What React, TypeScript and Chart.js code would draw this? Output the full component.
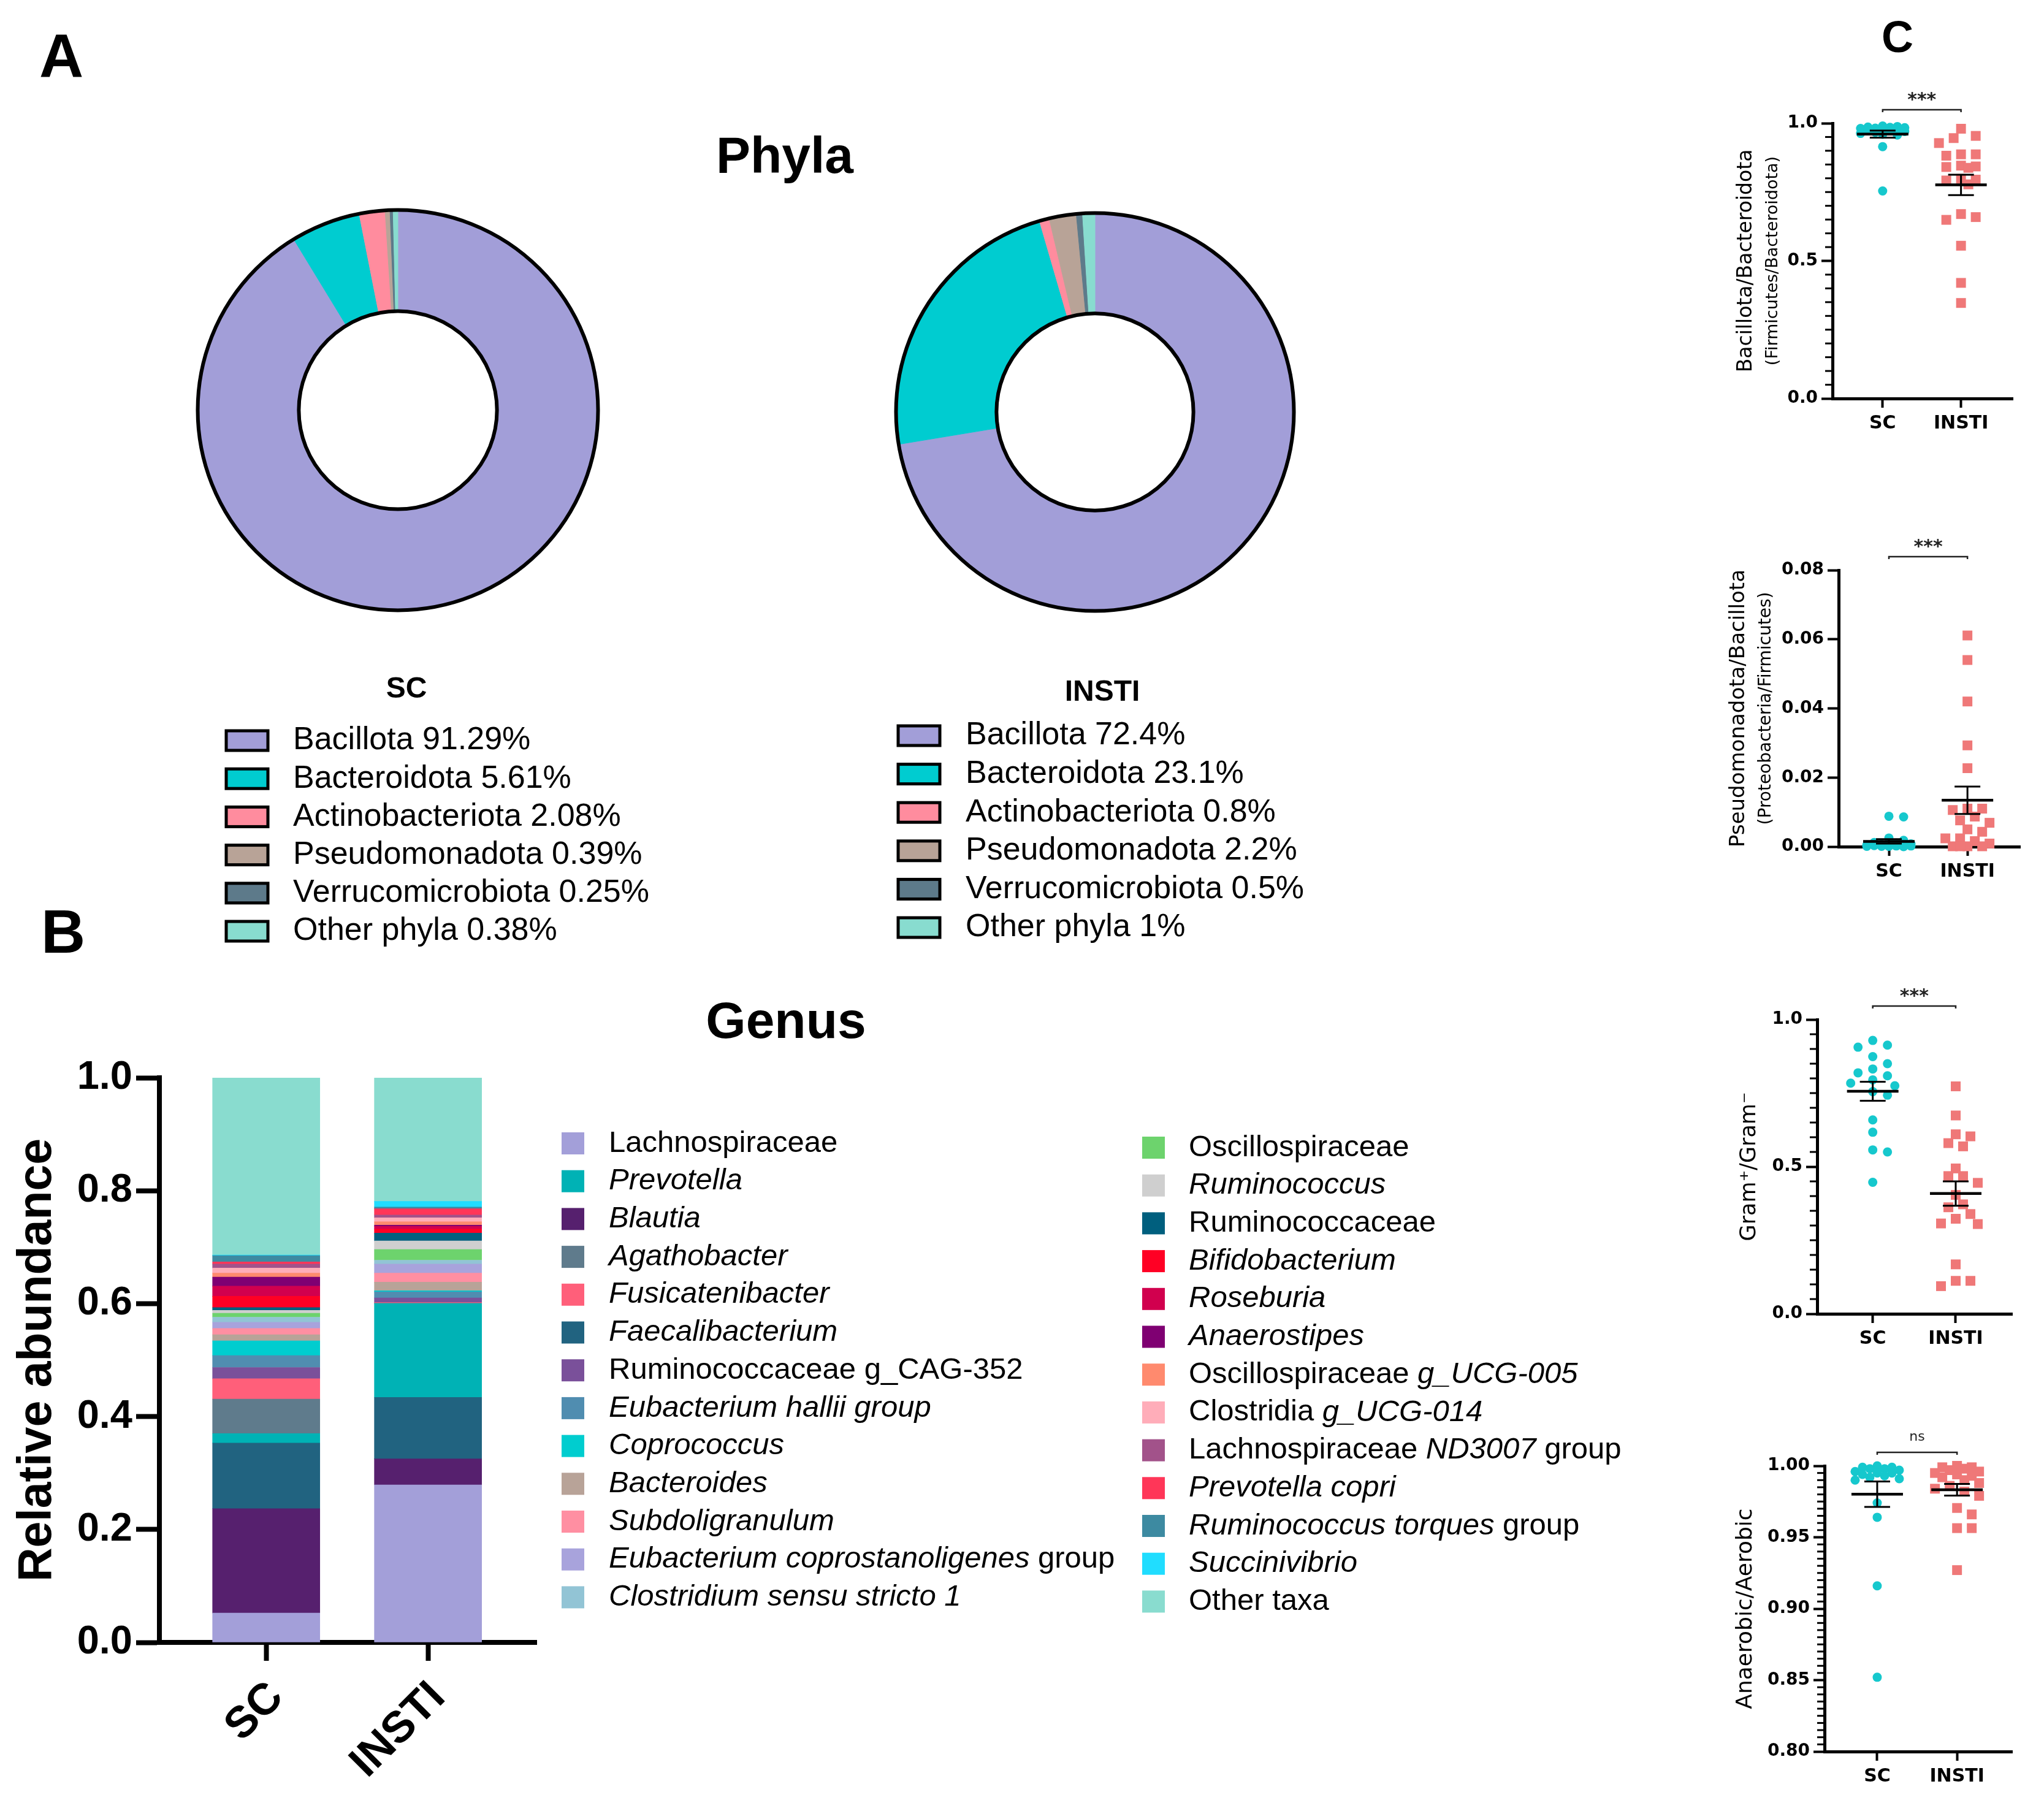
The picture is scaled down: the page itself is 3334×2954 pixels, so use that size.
import React, { useEffect, useRef } from 'react';
import { Chart, registerables } from 'chart.js';

Chart.register(...registerables);

const SANS = '"Liberation Sans", Arial, Helvetica, sans-serif';
const DEJAVU = '"DejaVu Sans", Verdana, sans-serif';

// ================= DATA =================
// Panel A - phyla
const phylaLabels = ['Bacillota', 'Bacteroidota', 'Actinobacteriota', 'Pseudomonadota', 'Verrucomicrobiota', 'Other phyla'];
const phylaColors = ['#a29ed8', '#00ccd0', '#ff8c9e', '#b8a397', '#5d7a8a', '#88dccf'];
const phylaSC = [91.29, 5.61, 2.08, 0.39, 0.25, 0.38];
const phylaINSTI = [72.4, 23.1, 0.8, 2.2, 0.5, 1];

// Panel B - genus (legend order)
const barGroups = ['SC', 'INSTI'];
const genusNames = [
  'Lachnospiraceae', 'Prevotella', 'Blautia', 'Agathobacter', 'Fusicatenibacter', 'Faecalibacterium',
  'Ruminococcaceae g_CAG-352', 'Eubacterium hallii group', 'Coprococcus', 'Bacteroides', 'Subdoligranulum',
  'Eubacterium coprostanoligenes group', 'Clostridium sensu stricto 1',
  'Oscillospiraceae', 'Ruminococcus', 'Ruminococcaceae', 'Bifidobacterium', 'Roseburia', 'Anaerostipes',
  'Oscillospiraceae g_UCG-005', 'Clostridia g_UCG-014', 'Lachnospiraceae ND3007 group', 'Prevotella copri',
  'Ruminococcus torques group', 'Succinivibrio', 'Other taxa',
];
const genusItalic = [
  '', 'Prevotella', 'Blautia', 'Agathobacter', 'Fusicatenibacter', 'Faecalibacterium',
  '', 'Eubacterium hallii group', 'Coprococcus', 'Bacteroides', 'Subdoligranulum',
  'Eubacterium coprostanoligenes', 'Clostridium sensu stricto 1',
  '', 'Ruminococcus', '', 'Bifidobacterium', 'Roseburia', 'Anaerostipes',
  'g_UCG-005', 'g_UCG-014', 'ND3007', 'Prevotella copri',
  'Ruminococcus torques', 'Succinivibrio', '',
];
const genusColors = [
  '#a39fd9', '#00b2b5', '#56206e', '#5f7b8c', '#ff5f7a', '#216380',
  '#7a509a', '#508db0', '#00cdcf', '#b8a398', '#ff8fa2',
  '#a8a3dc', '#92c4d5',
  '#6dd36d', '#cfcfcf', '#005f7e', '#ff0024', '#d1004e', '#7f0072',
  '#ff8a6e', '#ffadb9', '#a2528a', '#ff3658',
  '#3d8aa1', '#20ddff', '#89dccf',
];
// position of each genus in the stack (0 = bottom)
const genusStackRank = [0, 3, 1, 4, 5, 2, 6, 7, 8, 9, 10, 11, 12, 13, 14, 15, 16, 17, 18, 19, 20, 21, 22, 23, 24, 25];
const genusSC = [
  0.052, 0.017, 0.185, 0.061, 0.036, 0.116, 0.020, 0.021, 0.026, 0.011, 0.011, 0.011, 0.009,
  0.007, 0.005, 0.005, 0.020, 0.018, 0.016, 0.007, 0.009, 0.007, 0.004, 0.011, 0.001, 0.314,
];
const genusINSTI = [
  0.279, 0.166, 0.046, 0.001, 0.001, 0.109, 0.008, 0.011, 0.002, 0.015, 0.016, 0.016, 0.007,
  0.019, 0.015, 0.014, 0.007, 0.005, 0.002, 0.006, 0.007, 0.005, 0.011, 0.003, 0.010, 0.219,
];

// Panel C - ratios per subject
const groupLabels = ['SC', 'INSTI'];
const fbSC = [0.990, 0.988, 0.986, 0.985, 0.984, 0.982, 0.981, 0.979, 0.977, 0.975, 0.972, 0.970, 0.967, 0.963, 0.960, 0.957, 0.915, 0.754];
const fbINSTI = [0.980, 0.954, 0.946, 0.928, 0.887, 0.882, 0.887, 0.843, 0.846, 0.838, 0.841, 0.792, 0.795, 0.778, 0.798, 0.670, 0.649, 0.659, 0.555, 0.420, 0.347];
const pbSC = [0.0088, 0.0086, 0.0025, 0.0018, 0.0012, 0.0010, 0.0008, 0.0006, 0.0005, 0.0004, 0.0003, 0.0003, 0.0002, 0.0002, 0.0001, 0.0001, 0.0001, 0.0000];
const pbINSTI = [0.0611, 0.0540, 0.0420, 0.0293, 0.0227, 0.0106, 0.0110, 0.0110, 0.0087, 0.0076, 0.0069, 0.0050, 0.0043, 0.0024, 0.0024, 0.0016, 0.0009, 0.0001, 0.0001, 0.0001, 0.0001];
const gramSC = [0.929, 0.913, 0.906, 0.874, 0.850, 0.832, 0.819, 0.809, 0.795, 0.784, 0.775, 0.755, 0.743, 0.659, 0.617, 0.557, 0.550, 0.447];
const gramINSTI = [0.773, 0.674, 0.610, 0.603, 0.580, 0.569, 0.494, 0.468, 0.468, 0.445, 0.404, 0.372, 0.362, 0.339, 0.323, 0.307, 0.305, 0.168, 0.112, 0.112, 0.094];
const anSC = [1.000, 0.999, 0.999, 0.998, 0.998, 0.997, 0.996, 0.995, 0.995, 0.994, 0.993, 0.992, 0.991, 0.990, 0.974, 0.964, 0.916, 0.852];
const anINSTI = [1.000, 0.999, 0.999, 0.998, 0.997, 0.996, 0.995, 0.994, 0.993, 0.992, 0.990, 0.988, 0.986, 0.984, 0.982, 0.979, 0.9705, 0.966, 0.9564, 0.9564, 0.927];

// ================= STYLE / LAYOUT =================
const SC_DOT = '#16c8cd';
const INSTI_DOT = '#ef7878';

type Box = { left: number; top: number; width: number; height: number };

function ChartCanvas({ box, build }: { box: Box; build: (c: HTMLCanvasElement) => Chart }) {
  const ref = useRef<HTMLCanvasElement>(null);
  useEffect(() => {
    if (!ref.current) return;
    const chart = build(ref.current);
    return () => chart.destroy();
  }, []);
  return (
    <canvas
      ref={ref}
      width={box.width}
      height={box.height}
      style={{ position: 'absolute', left: box.left, top: box.top, width: box.width, height: box.height }}
    />
  );
}

// ---------- Doughnuts ----------
const ringOutline = {
  id: 'ringOutline',
  afterDatasetsDraw(chart: any) {
    const arc = chart.getDatasetMeta(0).data[0];
    if (!arc) return;
    const { ctx } = chart;
    ctx.save();
    ctx.strokeStyle = '#000';
    ctx.lineWidth = 6;
    ctx.beginPath();
    ctx.arc(arc.x, arc.y, arc.outerRadius, 0, Math.PI * 2);
    ctx.stroke();
    ctx.beginPath();
    ctx.arc(arc.x, arc.y, arc.innerRadius, 0, Math.PI * 2);
    ctx.stroke();
    ctx.restore();
  },
};

function phylaLegend(L: any) {
  return {
    id: 'phylaLegend',
    afterDraw(chart: any) {
      const { ctx } = chart;
      const ds = chart.data.datasets[0];
      ctx.save();
      ctx.fillStyle = '#000';
      ctx.font = `bold 48px ${SANS}`;
      ctx.textAlign = 'center';
      ctx.textBaseline = 'middle';
      ctx.fillText(L.title, L.titleX, L.titleY);
      ctx.font = `52px ${SANS}`;
      ctx.textAlign = 'left';
      chart.data.labels.forEach((lab: string, i: number) => {
        const cy = L.firstY + i * L.step;
        ctx.fillStyle = ds.backgroundColor[i];
        ctx.fillRect(L.boxX, cy - 16, 68, 32);
        ctx.lineWidth = 5;
        ctx.strokeStyle = '#000';
        ctx.strokeRect(L.boxX, cy - 16, 68, 32);
        ctx.fillStyle = '#000';
        ctx.fillText(`${lab} ${ds.data[i]}%`, L.textX, cy);
      });
      ctx.restore();
    },
  };
}

function buildDoughnut(values: number[], padding: any, legend: any) {
  return (canvas: HTMLCanvasElement) =>
    new Chart(canvas, {
      type: 'doughnut',
      data: {
        labels: phylaLabels,
        datasets: [{ data: values, backgroundColor: phylaColors, borderColor: phylaColors, borderWidth: 1 }],
      },
      options: {
        responsive: false,
        animation: false,
        devicePixelRatio: 1,
        events: [],
        cutout: '49.5%',
        layout: { padding },
        plugins: { legend: { display: false }, tooltip: { enabled: false } },
      } as any,
      plugins: [ringOutline, phylaLegend(legend)],
    });
}

const scDonutBox = { left: 300, top: 320, width: 1100, height: 1260 };
const instiDonutBox = { left: 1440, top: 320, width: 900, height: 1260 };

// ---------- Genus stacked bar ----------
const barBox = { left: 0, top: 1700, width: 2700, height: 1254 };
const genusLegendLayout = { colX: [916, 1863], textDx: [77, 76], firstY: [165, 172], step: 61.7, perCol: 13 };

const genusLegend = {
  id: 'genusLegend',
  afterDraw(chart: any) {
    const { ctx } = chart;
    const G = genusLegendLayout;
    ctx.save();
    ctx.textBaseline = 'middle';
    ctx.textAlign = 'left';
    chart.data.datasets.forEach((ds: any, i: number) => {
      const col = i < G.perCol ? 0 : 1;
      const row = i % G.perCol;
      const bx = G.colX[col];
      const cy = G.firstY[col] + row * G.step;
      ctx.fillStyle = ds.backgroundColor;
      ctx.fillRect(bx, cy - 18, 37, 36);
      const name: string = ds.label;
      const it = genusItalic[i];
      let parts: { t: string; i: boolean }[] = [{ t: name, i: false }];
      if (it) {
        const k = name.indexOf(it);
        parts = [
          { t: name.slice(0, k), i: false },
          { t: it, i: true },
          { t: name.slice(k + it.length), i: false },
        ];
      }
      let x = bx + G.textDx[col];
      ctx.fillStyle = '#000';
      parts.forEach((p) => {
        if (!p.t) return;
        ctx.font = `${p.i ? 'italic ' : ''}49px ${SANS}`;
        ctx.fillText(p.t, x, cy);
        x += ctx.measureText(p.t).width;
      });
    });
    ctx.restore();
  },
};

function buildBar(canvas: HTMLCanvasElement) {
  return new Chart(canvas, {
    type: 'bar',
    data: {
      datasets: genusNames.map((name, i) => ({
        label: name,
        data: barGroups.map((_, g) => ({ x: g, y: g === 0 ? genusSC[i] : genusINSTI[i] })),
        backgroundColor: genusColors[i],
        borderWidth: 0,
        order: genusStackRank[i],
        barThickness: 175,
      })),
    },
    options: {
      responsive: false,
      animation: false,
      devicePixelRatio: 1,
      events: [],
      layout: { padding: { top: 58, right: 1825, left: 0, bottom: 0 } },
      plugins: { legend: { display: false }, tooltip: { enabled: false } },
      scales: {
        x: {
          type: 'linear',
          stacked: true,
          offset: false,
          min: -0.66,
          max: 1.67,
          afterBuildTicks: (s: any) => {
            s.ticks = barGroups.map((_, i) => ({ value: i }));
          },
          afterFit: (s: any) => {
            s.height = 275;
          },
          grid: { offset: false, drawOnChartArea: false, drawTicks: true, tickLength: 30, tickWidth: 8, tickColor: '#000' },
          border: { display: true, width: 8, color: '#000' },
          ticks: {
            autoSkip: false,
            callback: (v: any) => barGroups[v],
            font: { family: SANS, size: 72, weight: 'bold' },
            color: '#000',
            maxRotation: 45,
            minRotation: 45,
            padding: 18,
            labelOffset: 17,
          },
        },
        y: {
          stacked: true,
          min: 0,
          max: 1,
          afterFit: (s: any) => {
            s.width = 260;
          },
          ticks: {
            stepSize: 0.2,
            callback: (v: any) => Number(v).toFixed(1),
            font: { family: SANS, size: 65, weight: 'bold' },
            color: '#000',
            padding: 6,
          },
          grid: { drawOnChartArea: false, drawTicks: true, tickLength: 38, tickWidth: 8, tickColor: '#000' },
          border: { display: true, width: 8, color: '#000' },
          title: {
            display: true,
            text: 'Relative abundance',
            font: { family: SANS, size: 77, weight: 'bold' },
            color: '#000',
            padding: { top: 16, bottom: 0 },
          },
        },
      },
    } as any,
    plugins: [genusLegend],
  });
}

// ---------- Scatter (mean ± SEM) ----------
function beeswarm(values: number[], pxPerUnit: number, diam: number, step: number, maxHalf: number): number[] {
  const order = values.map((_, i) => i).sort((a, b) => values[b] - values[a]);
  const placed: { x: number; y: number }[] = [];
  const out = new Array(values.length).fill(0);
  const maxK = Math.floor(maxHalf / step);
  for (const i of order) {
    const y = values[i] * pxPerUnit;
    let best = 0;
    let bestD = -1;
    for (let k = 0; k <= 2 * maxK; k++) {
      const off = k === 0 ? 0 : (k % 2 ? 1 : -1) * Math.ceil(k / 2) * step;
      let minD = Infinity;
      for (const p of placed) {
        const d = Math.hypot(p.x - off, p.y - y);
        if (d < minD) minD = d;
      }
      if (minD >= diam) {
        best = off;
        break;
      }
      if (minD > bestD) {
        bestD = minD;
        best = off;
      }
    }
    out[i] = best;
    placed.push({ x: best, y });
  }
  return out;
}

function stats(vals: number[]) {
  const n = vals.length;
  const mean = vals.reduce((a, b) => a + b, 0) / n;
  const sd = Math.sqrt(vals.reduce((a, b) => a + (b - mean) * (b - mean), 0) / (n - 1));
  return { mean, sem: sd / Math.sqrt(n) };
}

function scatterDecor(spec: any) {
  return {
    id: 'scatterDecor',
    afterDraw(chart: any) {
      const { ctx, chartArea } = chart;
      const xs = chart.scales.x;
      const ys = chart.scales.y;
      ctx.save();
      ctx.strokeStyle = '#000';
      ctx.lineCap = 'butt';
      // minor ticks on y
      if (spec.yMinor) {
        ctx.lineWidth = 3;
        const n = Math.round((spec.yMax - spec.yMin) / spec.yMinor);
        for (let k = 0; k <= n; k++) {
          const v = spec.yMin + k * spec.yMinor;
          const r = (v - spec.yMin) / spec.yStep;
          if (Math.abs(r - Math.round(r)) < 1e-6) continue;
          const py = ys.getPixelForValue(v);
          ctx.beginPath();
          ctx.moveTo(chartArea.left - 12, py);
          ctx.lineTo(chartArea.left, py);
          ctx.stroke();
        }
      }
      // mean +- SEM
      chart.data.datasets.forEach((ds: any, g: number) => {
        const { mean, sem } = stats(ds.data.map((p: any) => p.y));
        const cx = xs.getPixelForValue(g);
        const pm = ys.getPixelForValue(mean);
        const pt = ys.getPixelForValue(mean + sem);
        const pb = ys.getPixelForValue(mean - sem);
        ctx.lineWidth = 4.5;
        ctx.beginPath();
        ctx.moveTo(cx - 42, pm);
        ctx.lineTo(cx + 42, pm);
        ctx.stroke();
        ctx.lineWidth = 3;
        ctx.beginPath();
        ctx.moveTo(cx, pt);
        ctx.lineTo(cx, pb);
        ctx.moveTo(cx - 21, pt);
        ctx.lineTo(cx + 21, pt);
        ctx.moveTo(cx - 21, pb);
        ctx.lineTo(cx + 21, pb);
        ctx.stroke();
      });
      // significance bracket
      const x0 = xs.getPixelForValue(0);
      const x1 = xs.getPixelForValue(1);
      const by = chartArea.top - 22;
      ctx.strokeStyle = '#222';
      ctx.lineWidth = 2.5;
      ctx.beginPath();
      ctx.moveTo(x0, by + 4);
      ctx.lineTo(x0, by);
      ctx.lineTo(x1, by);
      ctx.lineTo(x1, by + 4);
      ctx.stroke();
      ctx.fillStyle = '#222';
      ctx.textAlign = 'center';
      ctx.textBaseline = 'alphabetic';
      if (spec.sig === 'ns') {
        ctx.font = `22px ${DEJAVU}`;
        ctx.fillText(spec.sig, (x0 + x1) / 2, by - 25 + 6);
      } else {
        ctx.font = `bold 30px ${DEJAVU}`;
        ctx.fillText(spec.sig, (x0 + x1) / 2, by - 25 + 18);
      }
      // y titles
      ctx.fillStyle = '#000';
      spec.titles.forEach((t: any) => {
        ctx.save();
        ctx.translate(chartArea.left + t.dx, (chartArea.top + chartArea.bottom) / 2);
        ctx.rotate(-Math.PI / 2);
        ctx.font = `${t.size}px ${DEJAVU}`;
        ctx.textAlign = 'center';
        ctx.textBaseline = 'middle';
        ctx.fillText(t.text, 0, 0);
        ctx.restore();
      });
      ctx.restore();
    },
  };
}

function buildScatter(spec: any) {
  return (canvas: HTMLCanvasElement) => {
    const pxX = (spec.area.right - spec.area.left) / (spec.xMax - spec.xMin);
    const pxY = (spec.area.bottom - spec.area.top) / (spec.yMax - spec.yMin);
    const series = [spec.sc, spec.insti];
    const datasets = series.map((vals: number[], g: number) => {
      const offs = beeswarm(vals, pxY, 17, 12, 42);
      const color = g === 0 ? SC_DOT : INSTI_DOT;
      return {
        label: groupLabels[g],
        data: vals.map((v, k) => ({ x: g + offs[k] / pxX, y: v })),
        pointStyle: g === 0 ? 'circle' : 'rect',
        pointRadius: g === 0 ? 7.5 : 11.3,
        pointBorderWidth: 0,
        backgroundColor: color,
        borderColor: color,
        showLine: false,
        clip: false,
      };
    });
    return new Chart(canvas, {
      type: 'scatter',
      data: { datasets },
      options: {
        responsive: false,
        animation: false,
        devicePixelRatio: 1,
        events: [],
        layout: {
          padding: {
            top: spec.area.top - spec.canvas.top,
            right: spec.canvas.left + spec.canvas.width - spec.area.right,
            left: 0,
            bottom: 0,
          },
        },
        plugins: { legend: { display: false }, tooltip: { enabled: false } },
        scales: {
          x: {
            type: 'linear',
            min: spec.xMin,
            max: spec.xMax,
            afterBuildTicks: (s: any) => {
              s.ticks = groupLabels.map((_, i) => ({ value: i }));
            },
            afterFit: (s: any) => {
              s.height = spec.canvas.top + spec.canvas.height - spec.area.bottom;
            },
            ticks: {
              autoSkip: false,
              maxRotation: 0,
              callback: (v: any) => groupLabels[v],
              font: { family: DEJAVU, size: 30, weight: 'bold' },
              color: '#000',
              padding: 8,
            },
            grid: { drawOnChartArea: false, drawTicks: true, tickLength: 15, tickWidth: 4, tickColor: '#000' },
            border: { display: true, width: 5, color: '#000' },
          },
          y: {
            min: spec.yMin,
            max: spec.yMax,
            afterFit: (s: any) => {
              s.width = spec.area.left - spec.canvas.left;
            },
            ticks: {
              stepSize: spec.yStep,
              callback: (v: any) => Number(v).toFixed(spec.decimals),
              font: { family: DEJAVU, size: 28, weight: 'bold' },
              color: '#000',
              padding: 6,
            },
            grid: { drawOnChartArea: false, drawTicks: true, tickLength: 18, tickWidth: 4, tickColor: '#000' },
            border: { display: true, width: 5, color: '#000' },
          },
        },
      } as any,
      plugins: [scatterDecor(spec)],
    });
  };
}

const scatterSpecs = [
  {
    canvas: { left: 2800, top: 100, width: 534, height: 650 },
    area: { left: 2989, top: 201, right: 3283, bottom: 650 },
    xMin: -0.64, xMax: 1.66, yMin: 0, yMax: 1, yStep: 0.5, yMinor: 0.05, decimals: 1,
    sc: fbSC, insti: fbINSTI, sig: '***',
    titles: [
      { text: 'Bacillota/Bacteroidota', size: 33, dx: -141 },
      { text: '(Firmicutes/Bacteroidota)', size: 27, dx: -97 },
    ],
  },
  {
    canvas: { left: 2800, top: 830, width: 534, height: 650 },
    area: { left: 2999, top: 930, right: 3295, bottom: 1381 },
    xMin: -0.64, xMax: 1.67, yMin: 0, yMax: 0.08, yStep: 0.02, yMinor: 0, decimals: 2,
    sc: pbSC, insti: pbINSTI, sig: '***',
    titles: [
      { text: 'Pseudomonadota/Bacillota', size: 34, dx: -163 },
      { text: '(Proteobacteria/Firmicutes)', size: 28, dx: -118 },
    ],
  },
  {
    canvas: { left: 2800, top: 1560, width: 534, height: 680 },
    area: { left: 2964, top: 1663, right: 3282, bottom: 2143 },
    xMin: -0.67, xMax: 1.68, yMin: 0, yMax: 1, yStep: 0.5, yMinor: 0.05, decimals: 1,
    sc: gramSC, insti: gramINSTI, sig: '***',
    titles: [{ text: 'Gram\u207A/Gram\u207B', size: 35, dx: -110 }],
  },
  {
    canvas: { left: 2800, top: 2290, width: 534, height: 664 },
    area: { left: 2976, top: 2391, right: 3282, bottom: 2857 },
    xMin: -0.66, xMax: 1.69, yMin: 0.8, yMax: 1.0, yStep: 0.05, yMinor: 0.005, decimals: 2,
    sc: anSC, insti: anINSTI, sig: 'ns',
    titles: [{ text: 'Anaerobic/Aerobic', size: 36, dx: -128 }],
  },
];

// ---------- Figure labels ----------
function Label({ text, x, capY, size }: { text: string; x: number; capY: number; size: number }) {
  return (
    <div
      style={{
        position: 'absolute',
        left: x,
        top: capY - 0.488 * size,
        transform: 'translateX(-50%)',
        fontFamily: SANS,
        fontWeight: 'bold',
        fontSize: size,
        lineHeight: `${size}px`,
        whiteSpace: 'nowrap',
        color: '#000',
      }}
    >
      {text}
    </div>
  );
}

export default function App() {
  useEffect(() => {
    document.body.style.margin = '0';
    document.body.style.overflow = 'hidden';
  }, []);
  return (
    <div style={{ position: 'absolute', left: 0, top: 0, width: 3334, height: 2954, background: '#fff', overflow: 'hidden' }}>
      <Label text="A" x={100} capY={90} size={100} />
      <Label text="Phyla" x={1280} capY={252} size={84} />
      <Label text="B" x={103} capY={1518} size={100} />
      <Label text="Genus" x={1282} capY={1663} size={84} />
      <Label text="C" x={3095} capY={59} size={72} />

      <ChartCanvas
        box={scDonutBox}
        build={buildDoughnut(phylaSC, { left: 0, right: 402, top: 22, bottom: 584 }, {
          title: 'SC', titleX: 363, titleY: 805, boxX: 69, textX: 178, firstY: 888, step: 62.2,
        })}
      />
      <ChartCanvas
        box={instiDonutBox}
        build={buildDoughnut(phylaINSTI, { left: 0, right: 208, top: 27, bottom: 583 }, {
          title: 'INSTI', titleX: 358, titleY: 810, boxX: 25, textX: 135, firstY: 880, step: 62.6,
        })}
      />
      <ChartCanvas box={barBox} build={buildBar} />
      {scatterSpecs.map((s, i) => (
        <ChartCanvas key={i} box={s.canvas} build={buildScatter(s)} />
      ))}
    </div>
  );
}
